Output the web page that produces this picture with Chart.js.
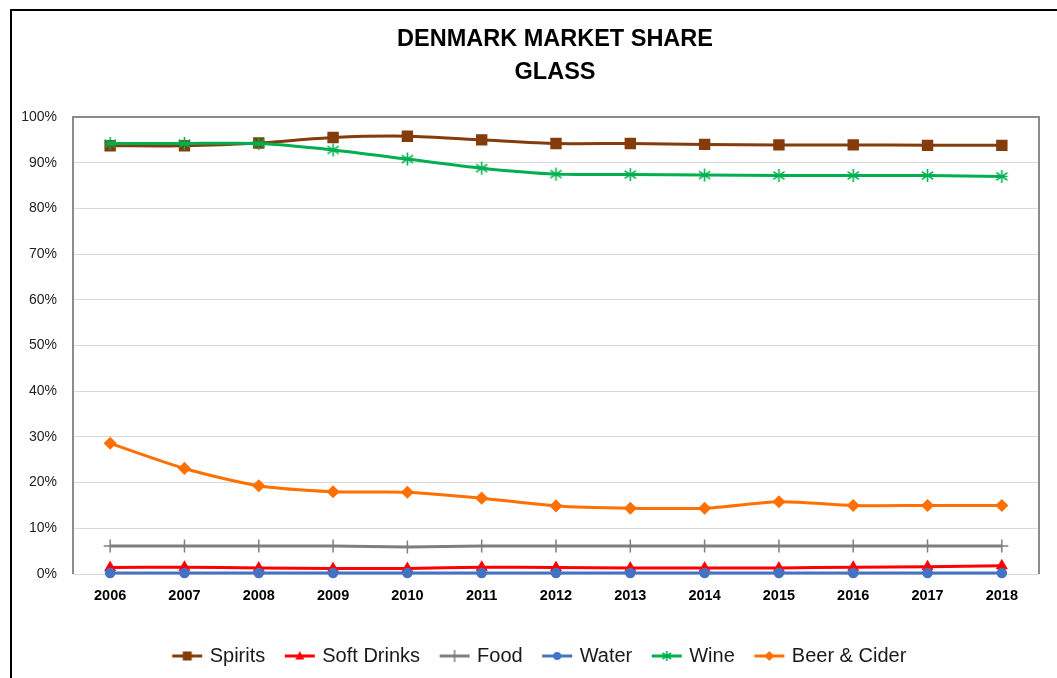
<!DOCTYPE html>
<html>
<head>
<meta charset="utf-8">
<script src="https://cdn.jsdelivr.net/npm/chart.js@4.4.1/dist/chart.umd.min.js"></script>
<style>
  html, body { margin: 0; padding: 0; background: #ffffff; }
  #wrap { position: relative; width: 1057px; height: 678px; }
  canvas { display: block; }
</style>
</head>
<body>
<div id="wrap"><canvas id="chart" width="1057" height="678"></canvas></div>
<script>
// Market share of glass packaging by drinks/food segment, Denmark (percent)
const years = ['2006', '2007', '2008', '2009', '2010', '2011', '2012', '2013', '2014', '2015', '2016', '2017', '2018'];
const spirits    = [93.7, 93.7, 94.3, 95.5, 95.8, 95.0, 94.2, 94.2, 94.0, 93.9, 93.9, 93.8, 93.8];
const softDrinks = [1.4, 1.5, 1.3, 1.2, 1.2, 1.5, 1.4, 1.3, 1.3, 1.3, 1.5, 1.6, 1.8];
const food       = [6.1, 6.1, 6.1, 6.1, 5.9, 6.1, 6.1, 6.1, 6.1, 6.1, 6.1, 6.1, 6.1];
const water      = [0.2, 0.2, 0.2, 0.2, 0.2, 0.2, 0.2, 0.2, 0.2, 0.2, 0.2, 0.2, 0.2];
const wine       = [94.2, 94.2, 94.2, 92.8, 90.8, 88.8, 87.5, 87.4, 87.3, 87.2, 87.2, 87.2, 87.0];
const beerCider  = [28.6, 23.1, 19.3, 18.0, 17.9, 16.6, 14.9, 14.4, 14.4, 15.8, 15.0, 15.0, 15.0];

const seriesNames = ['Spirits', 'Soft Drinks', 'Food', 'Water', 'Wine', 'Beer & Cider'];
const titleLines = ['DENMARK MARKET SHARE', 'GLASS'];
const yMin = 0, yMax = 100, yStep = 10;

const COLORS = {
  spirits: '#843C0C',
  soft: '#FF0000',
  food: '#7F7F7F',
  water: '#4472C4',
  wine: '#00B050',
  beer: '#FF7000'
};

// asterisk marker (vertical stroke + X) used for the Wine series
function asteriskMarker(color, r) {
  const s = Math.ceil(r * 2 + 4);
  const c = document.createElement('canvas');
  c.width = s; c.height = s;
  const g = c.getContext('2d');
  const m = s / 2;
  g.strokeStyle = color;
  g.lineWidth = 1.6;
  g.beginPath();
  g.moveTo(m, m - r); g.lineTo(m, m + r);
  const d = r * 0.87, e = r * 0.6;
  g.moveTo(m - d, m - e); g.lineTo(m + d, m + e);
  g.moveTo(m - d, m + e); g.lineTo(m + d, m - e);
  g.moveTo(m - d, m); g.lineTo(m + d, m);
  g.stroke();
  return c;
}

// legend swatch: a short line with the series marker in its middle
function legendSwatch(color, kind) {
  const w = 34, h = 16;
  const c = document.createElement('canvas');
  c.width = w; c.height = h;
  const g = c.getContext('2d');
  const cx = w / 2, cy = h / 2;
  g.strokeStyle = color;
  g.fillStyle = color;
  g.lineWidth = 3;
  g.beginPath(); g.moveTo(2, cy); g.lineTo(w - 2, cy); g.stroke();
  g.lineWidth = 1.5;
  g.beginPath();
  if (kind === 'rect') {
    g.fillRect(cx - 4.5, cy - 4.5, 9, 9);
  } else if (kind === 'triangle') {
    g.moveTo(cx, cy - 5); g.lineTo(cx + 4.5, cy + 3.5); g.lineTo(cx - 4.5, cy + 3.5); g.closePath(); g.fill();
  } else if (kind === 'cross') {
    g.moveTo(cx, cy - 6); g.lineTo(cx, cy + 6); g.stroke();
  } else if (kind === 'circle') {
    g.arc(cx, cy, 4, 0, Math.PI * 2); g.fill();
  } else if (kind === 'star') {
    g.drawImage(asteriskMarker(color, 5), cx - 7, cy - 7);
  } else if (kind === 'rectRot') {
    g.moveTo(cx, cy - 5); g.lineTo(cx + 5, cy); g.lineTo(cx, cy + 5); g.lineTo(cx - 5, cy); g.closePath(); g.fill();
  }
  return c;
}

function series(label, data, color, style, radius, order, kind) {
  return {
    label, data,
    borderColor: color,
    backgroundColor: color,
    borderWidth: 3,
    pointStyle: style,
    pointRadius: radius,
    pointHoverRadius: radius,
    pointBorderColor: color,
    pointBackgroundColor: color,
    pointBorderWidth: 1.5,
    tension: 0.25,
    clip: false,
    order,
    swatchKind: kind
  };
}

const datasets = [
  series(seriesNames[0], spirits, COLORS.spirits, 'rect', 7, 6, 'rect'),
  series(seriesNames[1], softDrinks, COLORS.soft, 'triangle', 5.5, 5, 'triangle'),
  series(seriesNames[2], food, COLORS.food, 'cross', 6.5, 4, 'cross'),
  series(seriesNames[3], water, COLORS.water, 'circle', 4.5, 3, 'circle'),
  series(seriesNames[4], wine, COLORS.wine, asteriskMarker(COLORS.wine, 6.5), 6.5, 2, 'star'),
  series(seriesNames[5], beerCider, COLORS.beer, 'rectRot', 5.5, 1, 'rectRot')
];

const PLOT_LEFT = 73;
const LEGEND_LEFT = 42;

// frame, plot border, two-line heading and legend placement
const decorations = {
  id: 'decorations',
  afterLayout(chart) {
    // legend is centred on the span from LEGEND_LEFT to the plot's right edge
    if (chart.legend) chart.legend.left = LEGEND_LEFT;
  },
  beforeDatasetsDraw(chart) {
    const { ctx, chartArea: a } = chart;
    ctx.save();
    ctx.strokeStyle = '#8C8C8C';
    ctx.lineWidth = 2;
    ctx.beginPath();
    ctx.moveTo(a.left, a.bottom);
    ctx.lineTo(a.left, a.top);
    ctx.lineTo(a.right, a.top);
    ctx.lineTo(a.right, a.bottom);
    ctx.stroke();
    ctx.restore();
  },
  afterDraw(chart) {
    const { ctx, width, height } = chart;
    ctx.save();
    ctx.strokeStyle = '#000000';
    ctx.lineWidth = 2;
    ctx.beginPath();
    ctx.moveTo(11, height);
    ctx.lineTo(11, 10);
    ctx.lineTo(width, 10);
    ctx.stroke();
    ctx.fillStyle = '#000000';
    ctx.font = 'bold 23.5px "Liberation Sans", Arial, sans-serif';
    ctx.textAlign = 'center';
    ctx.textBaseline = 'middle';
    ctx.fillText(titleLines[0], 555, 40);
    ctx.fillText(titleLines[1], 555, 73);
    ctx.restore();
  }
};

new Chart(document.getElementById('chart'), {
  type: 'line',
  data: { labels: years, datasets },
  options: {
    responsive: false,
    animation: false,
    devicePixelRatio: 1,
    layout: { padding: { top: 117, left: 0, right: 18, bottom: 2 } },
    scales: {
      x: {
        offset: true,
        grid: { display: false, drawTicks: false },
        border: { display: false },
        ticks: {
          padding: 13,
          color: '#000000',
          font: { family: '"Liberation Sans", Arial, sans-serif', size: 14.5, weight: 'bold' }
        },
        afterFit(scale) { scale.height = 50; }
      },
      y: {
        min: yMin, max: yMax,
        grid: { color: '#D9D9D9', lineWidth: 1, drawTicks: false },
        border: { display: false },
        ticks: {
          stepSize: yStep,
          padding: 16,
          color: '#222222',
          font: { family: '"Liberation Sans", Arial, sans-serif', size: 14 },
          callback: (v) => v + '%'
        },
        afterFit(scale) { scale.width = PLOT_LEFT; }
      }
    },
    plugins: {
      title: { display: false },
      tooltip: { enabled: false },
      legend: {
        position: 'bottom',
        labels: {
          usePointStyle: true,
          pointStyleWidth: 25,
          boxHeight: 16,
          padding: 22,
          color: '#1a1a1a',
          font: { family: '"Liberation Sans", Arial, sans-serif', size: 20 },
          generateLabels(chart) {
            return chart.data.datasets.map((ds, i) => ({
              text: ds.label,
              pointStyle: legendSwatch(ds.borderColor, ds.swatchKind),
              fillStyle: ds.borderColor,
              strokeStyle: ds.borderColor,
              lineWidth: 0,
              hidden: false,
              datasetIndex: i,
              fontColor: '#1a1a1a'
            }));
          }
        }
      }
    }
  },
  plugins: [decorations]
});
</script>
</body>
</html>
